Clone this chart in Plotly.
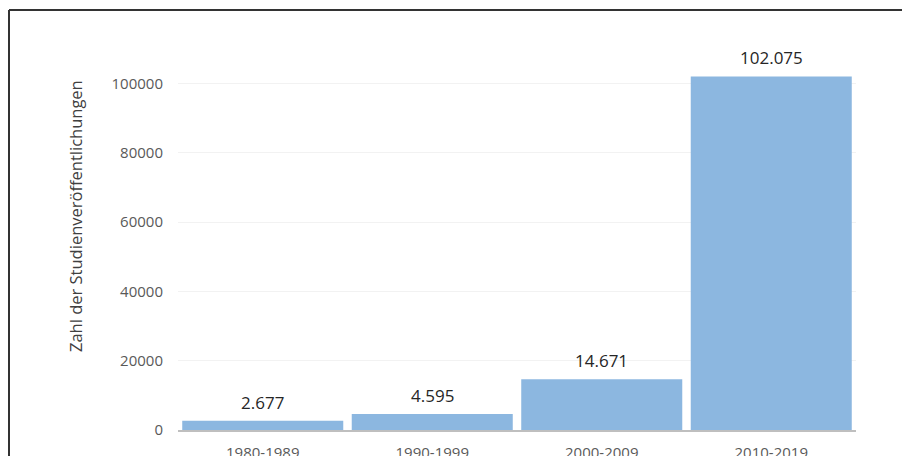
import plotly.graph_objects as go

categories = ["1980-1989", "1990-1999", "2000-2009", "2010-2019"]
values = [2677, 4595, 14671, 102075]
value_labels = ["2.677", "4.595", "14.671", "102.075"]
y_ticks = [0, 20000, 40000, 60000, 80000, 100000]
y_title = "Zahl der Studienveröffentlichungen"

W, H = 902, 456
ml, mr, mt, mb = 178, 46, 49, 26
pw, ph = W - ml - mr, H - mt - mb

def px_to_paper_x(px):
    return (px - ml) / pw

def px_to_paper_y(py):
    return (H - mb - py) / ph

fig = go.Figure(go.Bar(
    x=categories,
    y=values,
    marker=dict(color="#8cb7e0", line=dict(width=0)),
    hoverinfo="x+y",
))

annotations = [
    dict(x=c, y=v, xref="x", yref="y", text=t, showarrow=False,
         yanchor="bottom", yshift=5,
         font=dict(size=17, color="#262626", family="Open Sans"))
    for c, v, t in zip(categories, values, value_labels)
]
annotations.append(dict(
    x=px_to_paper_x(75), y=px_to_paper_y(216), xref="paper", yref="paper",
    text=y_title, textangle=-90, showarrow=False,
    xanchor="center", yanchor="middle",
    font=dict(size=16.5, color="#404040", family="Open Sans"),
))

fig.update_layout(
    width=W, height=H,
    margin=dict(l=ml, r=mr, t=mt, b=mb, autoexpand=False),
    paper_bgcolor="white",
    plot_bgcolor="white",
    bargap=0.05,
    showlegend=False,
    font=dict(family="Open Sans", color="#595959"),
    xaxis=dict(
        automargin=False,
        showgrid=False,
        showline=True,
        linecolor="#bfbfbf",
        linewidth=2,
        tickfont=dict(size=15, color="#595959"),
        ticklabelstandoff=8,
    ),
    yaxis=dict(
        automargin=False,
        range=[0, 110000],
        tickvals=y_ticks,
        tickformat="d",
        showgrid=True,
        gridcolor="#f2f2f2",
        gridwidth=1,
        zeroline=False,
        showline=False,
        tickfont=dict(size=15, color="#595959"),
        ticklabelstandoff=14,
    ),
    annotations=annotations,
    shapes=[
        dict(type="line", xref="paper", yref="paper",
             x0=px_to_paper_x(9), x1=px_to_paper_x(9),
             y0=px_to_paper_y(H + 2), y1=px_to_paper_y(10),
             line=dict(color="#333333", width=2)),
        dict(type="line", xref="paper", yref="paper",
             x0=px_to_paper_x(9), x1=px_to_paper_x(W + 2),
             y0=px_to_paper_y(10), y1=px_to_paper_y(10),
             line=dict(color="#333333", width=2)),
    ],
)

fig.write_html(
    "out.html",
    config={"displayModeBar": False},
    post_script="document.body.style.margin='0';document.body.style.overflow='hidden';",
)
